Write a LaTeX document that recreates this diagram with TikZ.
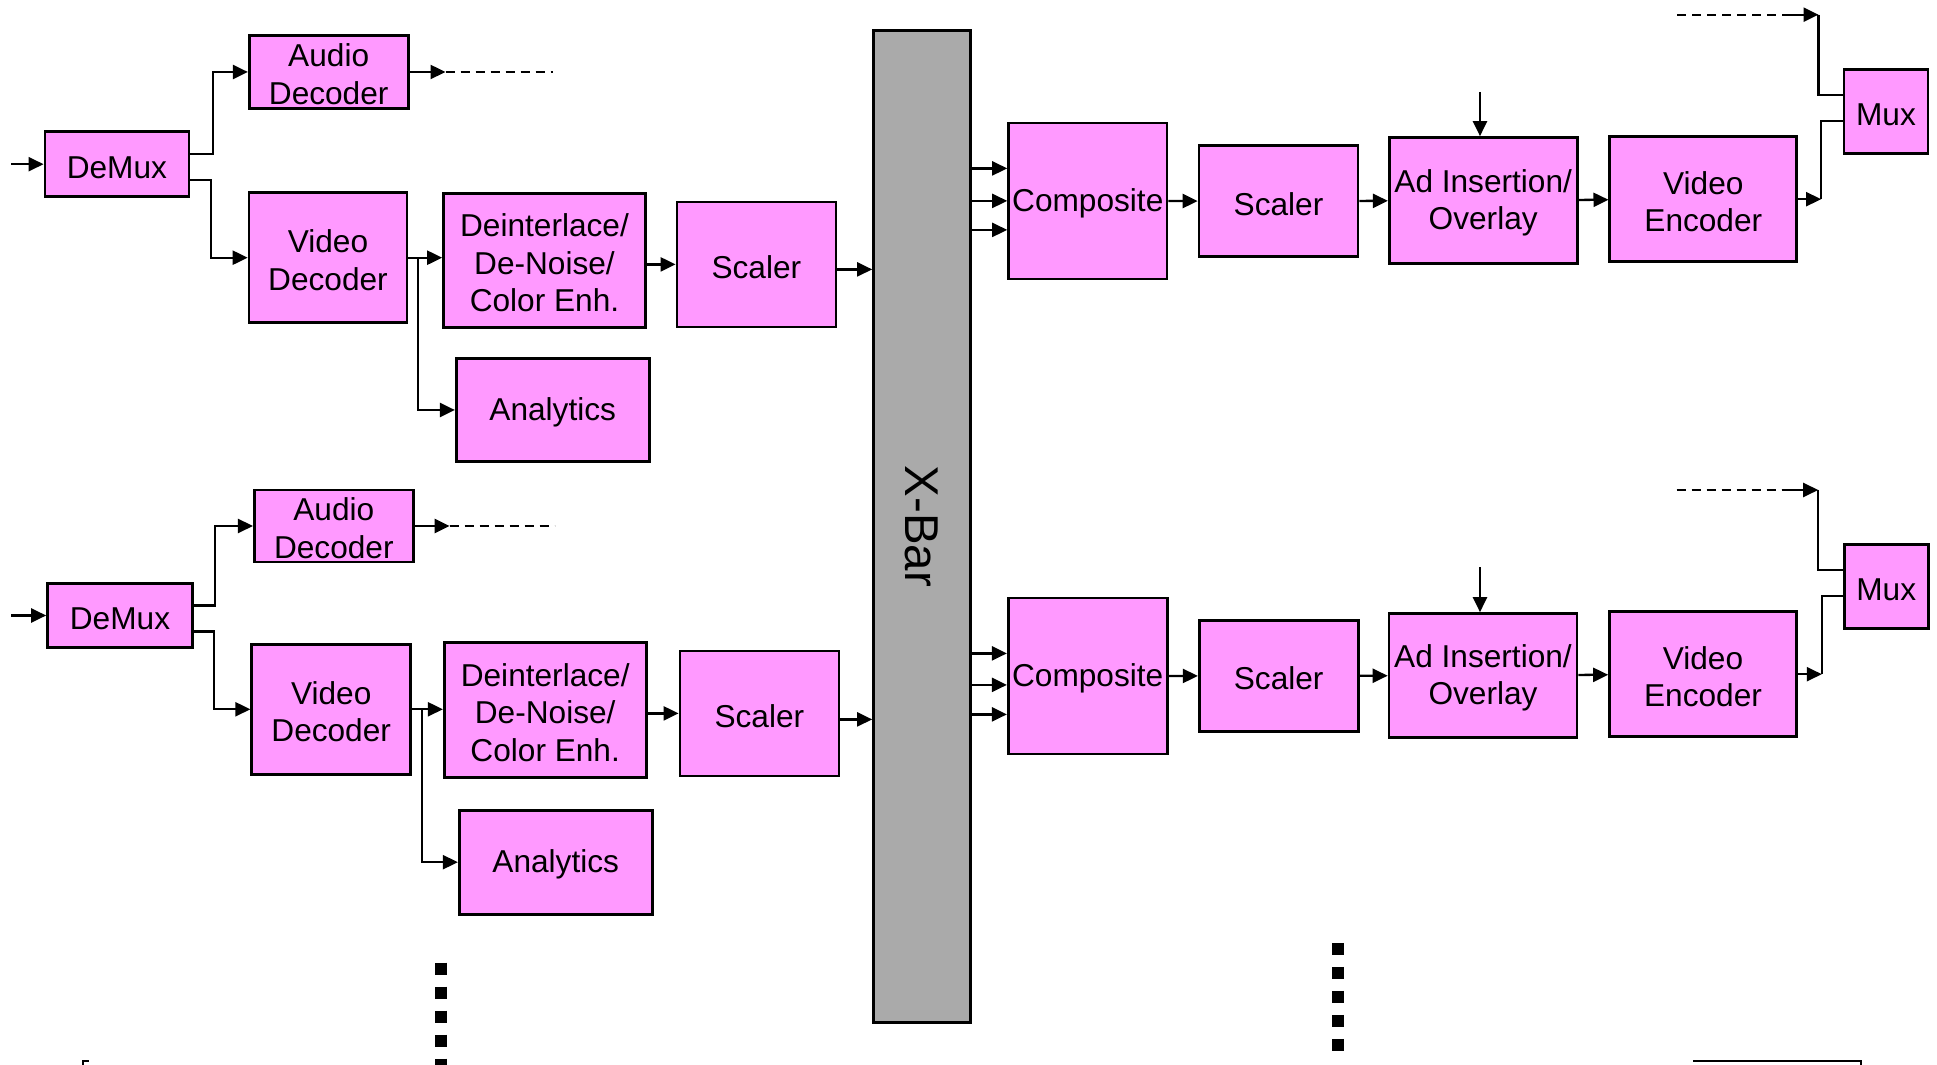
\documentclass[tikz,border=0pt]{standalone}
\usepackage{fontspec}
\setmainfont{Liberation Sans}
\usetikzlibrary{arrows.meta}
\definecolor{boxpink}{RGB}{255,153,255}
\definecolor{bargray}{RGB}{170,170,170}

\begin{document}
\begin{tikzpicture}[x=0.1mm, y=-0.1mm, line width=0.65pt,
  >={Triangle[length=1.5mm,width=1.4mm]},
  blk/.style={draw, fill=boxpink, line width=0.75pt, align=center, inner sep=0.5pt,
    font=\fontsize{9}{10.7}\selectfont, execute at begin node={\rule{0pt}{#1}}},
  blk/.default=8pt,
  dashline/.style={dash pattern=on 0.9mm off 0.6mm},
  dotcol/.style={line width=1.15mm, dash pattern=on 1.2mm off 1.2mm}]
  \useasboundingbox (0,0) rectangle (1937,1065);

  % first channel, decode side
  \node[blk, minimum width=14.4mm, minimum height=6.5mm] (dmx1) at (116.9,164.2) {DeMux};
  \node[blk=18.6pt, minimum width=15.9mm, minimum height=7.3mm] (adec1) at (328.7,72) {Audio\\Decoder};
  \node[blk=18.6pt, minimum width=15.8mm, minimum height=13mm] (vdec1) at (328,257.7) {Video\\Decoder};
  \node[blk=29.3pt, minimum width=20.2mm, minimum height=13.4mm] (dint1) at (544.5,260.5) {Deinterlace/\\De-Noise/\\Color Enh.};
  \node[blk, minimum width=15.9mm, minimum height=12.5mm] (scl1) at (756.4,264.4) {Scaler};
  \node[blk, minimum width=19.3mm, minimum height=10.3mm] (anl1) at (552.7,410) {Analytics};

  % second channel, decode side
  \node[blk, minimum width=14.5mm, minimum height=6.4mm] (dmx2) at (120,615.5) {DeMux};
  \node[blk=18.6pt, minimum width=15.9mm, minimum height=7.2mm] (adec2) at (333.8,526) {Audio\\Decoder};
  \node[blk=18.6pt, minimum width=15.9mm, minimum height=13mm] (vdec2) at (331.2,709.3) {Video\\Decoder};
  \node[blk=29.3pt, minimum width=20.2mm, minimum height=13.5mm] (dint2) at (545.2,710) {Deinterlace/\\De-Noise/\\Color Enh.};
  \node[blk, minimum width=15.9mm, minimum height=12.5mm] (scl2) at (759.4,713.4) {Scaler};
  \node[blk, minimum width=19.3mm, minimum height=10.4mm] (anl2) at (555.7,862.2) {Analytics};

  \node[draw, fill=bargray, line width=0.75pt, minimum width=9.7mm, minimum height=99.2mm,
    label={[rotate=-90, font=\fontsize{13.5}{16}\selectfont]center:X-Bar}] (xbar) at (922,526.5) {};

  % encode side
  \node[blk, minimum width=15.85mm, minimum height=15.6mm] (comp1) at (1087.8,200.9) {Composite};
  \node[blk, minimum width=15.9mm, minimum height=11.1mm] (scr1) at (1278.5,201.2) {Scaler};
  \node[blk=18.6pt, minimum width=18.8mm, minimum height=12.6mm] (ad1) at (1483.2,200.5) {Ad Insertion/\\Overlay};
  \node[blk=18.6pt, minimum width=18.7mm, minimum height=12.5mm] (venc1) at (1703.3,199.2) {Video\\Encoder};
  \node[blk, minimum width=8.4mm, minimum height=8.4mm] (mux1) at (1886,111.2) {Mux};

  \node[blk, minimum width=15.9mm, minimum height=15.6mm] (comp2) at (1087.7,675.9) {Composite};
  \node[blk, minimum width=15.9mm, minimum height=11.1mm] (scr2) at (1278.7,676) {Scaler};
  \node[blk=18.6pt, minimum width=18.8mm, minimum height=12.4mm] (ad2) at (1483,675.5) {Ad Insertion/\\Overlay};
  \node[blk=18.6pt, minimum width=18.7mm, minimum height=12.5mm] (venc2) at (1703,674.2) {Video\\Encoder};
  \node[blk, minimum width=8.4mm, minimum height=8.4mm] (mux2) at (1886.2,586.3) {Mux};

  \coordinate (in1) at (11,164.2);
  \coordinate (in2) at (11,615.5);
  \coordinate (adin1) at (1480,92);
  \coordinate (adin2) at (1480,567.3);
  \coordinate (aux1) at (1677,14.7);
  \coordinate (aux2) at (1676.7,490);

  % decode side connectors
  \draw[->] (in1) -- (dmx1.west);
  \draw[->] ([yshift=1mm]dmx1.east) -- ++(2.3mm,0) |- (adec1.west);
  \draw[->] ([yshift=-1.6mm]dmx1.east) -- ++(2.1mm,0) |- (vdec1.west);
  \draw[->] (adec1.east) -- ++(3.6mm,0) coordinate (aout1);
  \draw[dashline] (aout1) -- ++(10.7mm,0);
  \draw[->] (vdec1.east) -- (vdec1.east -| dint1.west);
  \draw[->] (vdec1.east) -- ++(1mm,0) |- (anl1.west);
  \draw[->] (scl1.west -| dint1.east) -- (scl1.west);
  \draw[->] ([yshift=-0.5mm]scl1.east) -- ([yshift=-0.5mm]scl1.east -| xbar.west);

  \draw[->] (in2) -- (dmx2.west);
  \draw[->] ([yshift=1mm]dmx2.east) -- ++(2.1mm,0) |- (adec2.west);
  \draw[->] ([yshift=-1.6mm]dmx2.east) -- ++(2mm,0) |- (vdec2.west);
  \draw[->] (adec2.east) -- ++(3.5mm,0) coordinate (aout2);
  \draw[dashline] (aout2) -- ++(10.5mm,0);
  \draw[->] (vdec2.east) -- (vdec2.east -| dint2.west);
  \draw[->] (vdec2.east) -- ++(1mm,0) |- (anl2.west);
  \draw[->] (scl2.west -| dint2.east) -- (scl2.west);
  \draw[->] ([yshift=-0.6mm]scl2.east) -- ([yshift=-0.6mm]scl2.east -| xbar.west);

  % encode side connectors
  \foreach \d in {3.25,0,-2.9}
    \draw[->] ([yshift=\d mm]comp1.west -| xbar.east) -- ([yshift=\d mm]comp1.west);
  \foreach \d in {2.25,-0.9,-3.85}
    \draw[->] ([yshift=\d mm]comp2.west -| xbar.east) -- ([yshift=\d mm]comp2.west);

  \path[->] (comp1) edge (scr1) (scr1) edge (ad1) (ad1) edge (venc1);
  \path[->] (comp2) edge (scr2) (scr2) edge (ad2) (ad2) edge (venc2);
  \draw[->] (adin1) -- (adin1 |- ad1.north);
  \draw[->] (adin2) -- (adin2 |- ad2.north);

  \draw[->] (venc1.east) -- ++(2.3mm,0) coordinate (vout1);
  \draw (vout1) |- ([yshift=-1mm]mux1.west);
  \draw[dashline] (aux1) -- ++(10.5mm,0) coordinate (auxe1);
  \draw[->] (auxe1) -- ++(3.65mm,0) coordinate (auxt1);
  \draw (auxt1) |- ([yshift=1.6mm]mux1.west);

  \draw[->] (venc2.east) -- ++(2.4mm,0) coordinate (vout2);
  \draw (vout2) |- ([yshift=-1mm]mux2.west);
  \draw[dashline] (aux2) -- ++(10.5mm,0) coordinate (auxe2);
  \draw[->] (auxe2) -- ++(3.65mm,0) coordinate (auxt2);
  \draw (auxt2) |- ([yshift=1.6mm]mux2.west);

  % more channels below
  \draw[dotcol] (441,962.7) -- (441,1065);
  \draw[dotcol, dash pattern=on 1.25mm off 1.15mm] (1338,943) -- (1338,1052);
  \draw (83,1065) -- (83,1060.7) -- (89,1060.7);
  \draw (1693,1060.7) -- (1860.7,1060.7) -- (1860.7,1065);
  \end{tikzpicture}
\end{document}
